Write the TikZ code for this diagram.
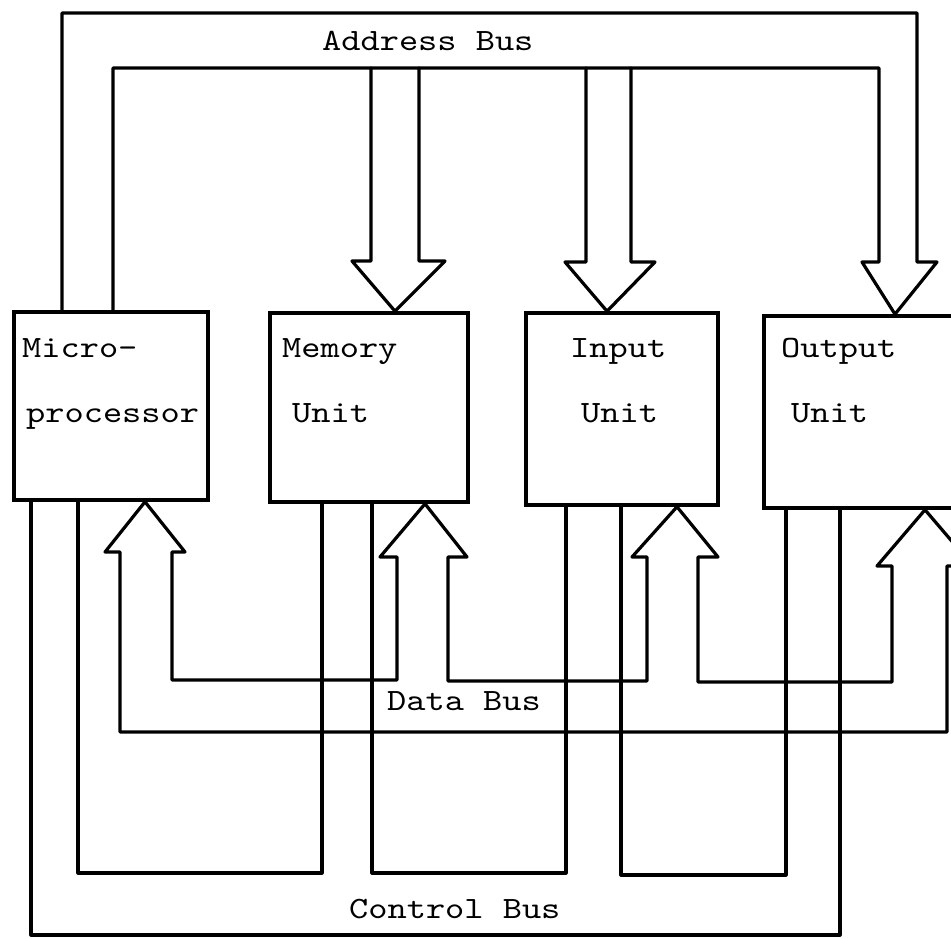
\documentclass[tikz,border=0pt]{standalone}
\usepackage{fontspec}
\newfontfamily\busfont{lmmono10-regular.otf}[FakeStretch=1.18]
\begin{document}
\begin{tikzpicture}[x=1pt,y=-1pt,
    unitbox/.style={draw,line width=3.6pt,rectangle,inner sep=0pt},
    busline/.style={line width=3.2pt,line join=round,line cap=round},
    lbl/.style={anchor=base west,inner sep=0pt,font=\busfont\fontsize{31}{38}\selectfont}]
  \useasboundingbox (0,0) rectangle (951,938);
  \clip (0,0) rectangle (951,938);

  % functional units
  \node[unitbox,minimum width=194pt,minimum height=188pt] (mp)  at (111,406) {};
  \node[unitbox,minimum width=198pt,minimum height=189pt] (mem) at (369,407.5) {};
  \node[unitbox,minimum width=192pt,minimum height=192pt] (inp) at (622,409) {};
  \node[unitbox,minimum width=226pt,minimum height=192pt] (out) at (877,412) {};

  % unit labels
  \node[lbl] (t1) at (22,357) {Micro-};
  \node[lbl] (t2) at (26,422) {processor};
  \node[lbl] (t3) at (282,357) {Memory};
  \node[lbl] (t4) at (292,422) {Unit};
  \node[lbl] (t5) at (570,357) {Input};
  \node[lbl] (t6) at (581,422) {Unit};
  \node[lbl] (t7) at (781,357) {Output};
  \node[lbl] (t8) at (791,422) {Unit};

  % bus labels
  \node[lbl] (ab) at (322,50) {Address Bus};
  \node[lbl] (db) at (387,710) {Data Bus};
  \node[lbl] (cb) at (349,918) {Control Bus};

  % address bus: both rails and the arrow into the output unit
  \draw[busline] (62,0 |- mp.north) -- (62,13) -- (917,13) -- (917,262)
    -- (937,262) -- (895,0 |- out.north) -- (862,262) -- (879,262)
    -- (879,68) -- (113,68) -- (113,0 |- mp.north);
  % address arrows into memory and input units
  \draw[busline] (371,68) -- (371,261) -- (352,261) -- (395,0 |- mem.north)
    -- (445,261) -- (419,261) -- (419,68);
  \draw[busline] (586,68) -- (586,262) -- (565,262) -- (607,0 |- inp.north)
    -- (655,262) -- (631,262) -- (631,68);

  % data bus: one closed loop through all four arrows
  \draw[busline] (120,732) -- (120,552) -- (105,552) -- (145,0 |- mp.south)
    -- (185,552) -- (172,552) -- (172,680) -- (397,680)
    -- (397,557) -- (380,557) -- (425,0 |- mem.south) -- (467,557)
    -- (448,557) -- (448,681) -- (647,681)
    -- (647,557) -- (632,557) -- (677,0 |- inp.south) -- (718,557)
    -- (698,557) -- (698,682) -- (892,682)
    -- (892,566) -- (877,566) -- (925,0 |- out.south) -- (973,566)
    -- (947,566) -- (947,732) -- cycle;

  % control bus
  \draw[busline] (31,0 |- mp.south) -- (31,935) -- (840,935) -- (840,0 |- out.south);
  \draw[busline] (78,0 |- mp.south) -- (78,873) -- (322,873) -- (322,0 |- mem.south);
  \draw[busline] (372,0 |- mem.south) -- (372,873) -- (566,873) -- (566,0 |- inp.south);
  \draw[busline] (621,0 |- inp.south) -- (621,875) -- (786,875) -- (786,0 |- out.south);
\end{tikzpicture}
\end{document}
